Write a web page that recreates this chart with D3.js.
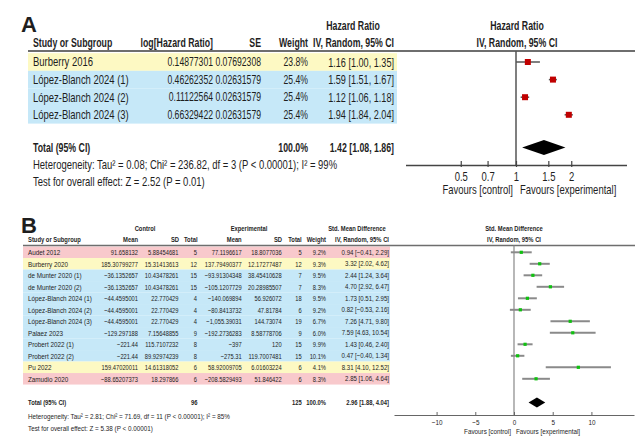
<!DOCTYPE html>
<html><head><meta charset="utf-8">
<script src="https://cdn.jsdelivr.net/npm/d3@7"></script>
<style>
body{margin:0;background:#fff;}
text{font-family:"Liberation Sans",Arial,sans-serif;fill:#1e1e1e;}
</style></head><body>
<script>
// ---------- Panel A data ----------
const studiesA = ["Burberry 2016","López-Blanch 2024 (1)","López-Blanch 2024 (2)","López-Blanch 2024 (3)"];
const logHR = ["0.14877301","0.46262352","0.11122564","0.66329422"];
const seA = ["0.07692308","0.02631579","0.02631579","0.02631579"];
const weightA = ["23.8%","25.4%","25.4%","25.4%"];
const hrA = [1.16,1.59,1.12,1.94];
const hrLowA = [1.00,1.51,1.06,1.84];
const hrHighA = [1.35,1.67,1.18,2.04];
const groupA = ["y","b","b","b"];
const totalA = {hr:1.42, low:1.08, high:1.86, weight:"100.0%"};
const hetA = "Heterogeneity: Tau² = 0.08; Chi² = 236.82, df = 3 (P < 0.00001); I² = 99%";
const testA = "Test for overall effect: Z = 2.52 (P = 0.01)";
const ticksA = [0.5,0.7,1,1.5,2];

// ---------- Panel B data ----------
const studiesB = ["Audet 2012","Burberry 2020","de Munter 2020 (1)","de Munter 2020 (2)","López-Blanch 2024 (1)","López-Blanch 2024 (2)","López-Blanch 2024 (3)","Palaez 2023","Probert 2022 (1)","Probert 2022 (2)","Pu 2022","Zamudio 2020"];
const ctrlMean = ["91.658132","185.30799277","−36.1352657","−36.1352657","−44.4595001","−44.4595001","−44.4595001","−129.297188","−221.44","−221.44","159.47020011","−88.65207373"];
const ctrlSD = ["5.88454681","15.31413613","10.43478261","10.43478261","22.770429","22.770429","22.770429","7.15648855","115.7107232","89.92974239","14.61318052","18.297866"];
const ctrlN = [5,12,15,15,4,4,4,9,8,8,6,6];
const expMean = ["77.1196617","137.79490377","−93.91304348","−105.1207729","−140.069894","−80.8413732","−1,055.39031","−192.2736283","−397","−275.31","58.92009705","−208.5829493"];
const expSD = ["18.8077036","12.17277487","38.45410628","20.28985507","56.926072","47.81784","144.73074","8.58778706","120","119.7007481","6.01603224","51.846422"];
const expN = [5,12,7,7,18,6,19,9,15,15,6,6];
const weightB = ["9.2%","9.3%","9.5%","8.3%","9.5%","9.2%","6.7%","6.0%","9.9%","10.1%","4.1%","8.3%"];
const smd = [0.94,3.32,2.44,4.70,1.73,0.82,7.26,7.59,1.43,0.47,8.31,2.85];
const smdLow = [-0.41,2.02,1.24,2.92,0.51,-0.53,4.71,4.63,0.46,-0.40,4.10,1.06];
const smdHigh = [2.29,4.62,3.64,6.47,2.95,2.16,9.80,10.54,2.40,1.34,12.52,4.64];
const groupB = ["p","y","b","b","b","b","b","b","b","b","y","p"];
const totalB = {ctrlN:96, expN:125, weight:"100.0%", smd:2.96, low:1.88, high:4.04};
const hetB = "Heterogeneity: Tau² = 2.81; Chi² = 71.69, df = 11 (P < 0.00001); I² = 85%";
const testB = "Test for overall effect: Z = 5.38 (P < 0.00001)";
const ticksB = [-10,-5,0,5,10];

// ---------- styles ----------
const bg = {y:"#fdf9c3", b:"#c6e8f8", p:"#f8c9cc"};
const SX = 0.79, SXB = 0.73, SXN = 0.72; // condensed look (regular / bold / numbers)
const fmt = v => (v<0?"−":"") + Math.abs(v).toFixed(2);
const ci = (m,l,h) => `${fmt(m)} [${fmt(l)}, ${fmt(h)}]`;

const svg = d3.select("body").append("svg").attr("width",635).attr("height",436);

function txt(g, x, y, s, opts={}){
  const sx = opts.sx || (opts.bold ? SXB : SX);
  return g.append("text").attr("transform",`translate(${x},${y}) scale(${sx},1)`)
    .attr("dominant-baseline","central")
    .attr("text-anchor",opts.anchor||"start").attr("font-size",opts.size||12)
    .attr("font-weight",opts.bold?"bold":"normal").text(s);
}

// ================= PANEL A =================
const gA = svg.append("g");
gA.append("text").attr("x",21).attr("y",32).attr("font-size",22).attr("font-weight","bold")
  .attr("fill","#000").text("A");

const rowA = i => 62 + i*17.6;
const bandHA = 17.6;
gA.selectAll("rect.bg").data(studiesA).join("rect")
  .attr("x",28).attr("width",369).attr("y",(d,i)=>rowA(i)-bandHA/2).attr("height",bandHA)
  .attr("fill",(d,i)=>bg[groupA[i]]);

// headers
txt(gA,353,25,"Hazard Ratio",{anchor:"middle",bold:true});
txt(gA,517,25,"Hazard Ratio",{anchor:"middle",bold:true});
const hA = 42.7;
txt(gA,33,hA,"Study or Subgroup",{bold:true});
txt(gA,213,hA,"log[Hazard Ratio]",{anchor:"end",bold:true});
txt(gA,261,hA,"SE",{anchor:"end",bold:true});
txt(gA,308,hA,"Weight",{anchor:"end",bold:true});
txt(gA,394,hA,"IV, Random, 95% CI",{anchor:"end",bold:true});
txt(gA,517,hA,"IV, Random, 95% CI",{anchor:"middle",bold:true});
gA.append("line").attr("x1",28).attr("x2",635).attr("y1",51).attr("y2",51)
  .attr("stroke","#6e6e6e").attr("stroke-width",2);

studiesA.forEach((s,i)=>{
  const y=rowA(i);
  txt(gA,33,y,s);
  txt(gA,213,y,logHR[i],{anchor:"end",sx:SXN});
  txt(gA,261,y,seA[i],{anchor:"end",sx:SXN});
  txt(gA,308,y,weightA[i],{anchor:"end",sx:SXN});
  txt(gA,394,y,ci(hrA[i],hrLowA[i],hrHighA[i]),{anchor:"end",sx:0.76});
});
const yTotA = 147.5;
txt(gA,33,yTotA,"Total (95% CI)",{bold:true});
txt(gA,308,yTotA,totalA.weight,{anchor:"end",bold:true});
txt(gA,394,yTotA,ci(totalA.hr,totalA.low,totalA.high),{anchor:"end",bold:true});
txt(gA,33,165,hetA);
txt(gA,33,182,testA);

// plot A
const xA = d3.scaleLog().domain([0.25,4]).range([405.5,626.5]);
const axYA = 165;
gA.append("line").attr("x1",xA(1)).attr("x2",xA(1)).attr("y1",51).attr("y2",axYA)
  .attr("stroke","#555").attr("stroke-width",1.5);
const axA = gA.append("g").attr("transform",`translate(0,${axYA})`)
  .call(d3.axisBottom(xA).tickValues(ticksA).tickFormat(d=>d).tickSizeOuter(0).tickSizeInner(-4).tickPadding(7));
axA.select(".domain").attr("stroke","#444").attr("stroke-width",1.5);
axA.selectAll(".tick line").attr("y1",2).attr("y2",-4).attr("stroke","#444").attr("stroke-width",1.2);
axA.selectAll(".tick text").attr("font-size",12).attr("fill","#1e1e1e")
  .style("font-family","'Liberation Sans',Arial,sans-serif").attr("transform",`scale(${SX},1)`);
txt(gA,xA(1)-3,190,"Favours [control]",{anchor:"end"});
txt(gA,xA(1)+4,190,"Favours [experimental]");

studiesA.forEach((s,i)=>{
  const y=rowA(i);
  gA.append("line").attr("x1",xA(hrLowA[i])).attr("x2",xA(hrHighA[i])).attr("y1",y).attr("y2",y)
    .attr("stroke","#555").attr("stroke-width",1.5);
  gA.append("rect").attr("x",xA(hrA[i])-3).attr("y",y-3).attr("width",6).attr("height",6).attr("fill","#c00000");
});
gA.append("path").attr("fill","#000").attr("d",
  `M${xA(totalA.low)},${yTotA} L${xA(totalA.hr)},${yTotA-7.5} L${xA(totalA.high)},${yTotA} L${xA(totalA.hr)},${yTotA+7.5} Z`);

// ================= PANEL B =================
const gB = svg.append("g");
gB.append("text").attr("x",21).attr("y",233).attr("font-size",22).attr("font-weight","bold")
  .attr("fill","#000").text("B");

const rowB = i => 252.3 + i*11.5;
gB.selectAll("rect.bg").data(studiesB).join("rect")
  .attr("x",23).attr("width",367).attr("y",(d,i)=>rowB(i)-5.75).attr("height",11.5)
  .attr("fill",(d,i)=>bg[groupB[i]]);

const fs=8;
txt(gB,145,228,"Control",{anchor:"middle",size:fs,bold:true});
txt(gB,249,228,"Experimental",{anchor:"middle",size:fs,bold:true});
txt(gB,357,228,"Std. Mean Difference",{anchor:"middle",size:fs,bold:true});
txt(gB,514,228,"Std. Mean Difference",{anchor:"middle",size:fs,bold:true});
const hB=239;
txt(gB,28,hB,"Study or Subgroup",{size:fs,bold:true});
txt(gB,138,hB,"Mean",{anchor:"end",size:fs,bold:true});
txt(gB,179,hB,"SD",{anchor:"end",size:fs,bold:true});
txt(gB,197.5,hB,"Total",{anchor:"end",size:fs,bold:true});
txt(gB,241.7,hB,"Mean",{anchor:"end",size:fs,bold:true});
txt(gB,282,hB,"SD",{anchor:"end",size:fs,bold:true});
txt(gB,301.7,hB,"Total",{anchor:"end",size:fs,bold:true});
txt(gB,326,hB,"Weight",{anchor:"end",size:fs,bold:true});
txt(gB,389,hB,"IV, Random, 95% CI",{anchor:"end",size:fs,bold:true});
txt(gB,514,hB,"IV, Random, 95% CI",{anchor:"middle",size:fs,bold:true});
gB.append("line").attr("x1",23).attr("x2",635).attr("y1",245.5).attr("y2",245.5)
  .attr("stroke","#6e6e6e").attr("stroke-width",1.6);

studiesB.forEach((s,i)=>{
  const y=rowB(i);
  const n = {size:fs, anchor:"end", sx:SXN};
  txt(gB,28,y,s,{size:fs});
  txt(gB,138,y,ctrlMean[i],n);
  txt(gB,178.5,y,ctrlSD[i],n);
  txt(gB,197,y,ctrlN[i],n);
  txt(gB,241.7,y,expMean[i],n);
  txt(gB,281.7,y,expSD[i],n);
  txt(gB,301.7,y,expN[i],n);
  txt(gB,326,y,weightB[i],n);
  txt(gB,389,y,ci(smd[i],smdLow[i],smdHigh[i]),{size:fs,anchor:"end",sx:0.76});
});
const yTotB=402.5;
txt(gB,28,yTotB,"Total (95% CI)",{size:fs,bold:true});
txt(gB,197.5,yTotB,totalB.ctrlN,{anchor:"end",size:fs,bold:true});
txt(gB,301.7,yTotB,totalB.expN,{anchor:"end",size:fs,bold:true});
txt(gB,326,yTotB,totalB.weight,{anchor:"end",size:fs,bold:true});
txt(gB,389,yTotB,ci(totalB.smd,totalB.low,totalB.high),{anchor:"end",size:fs,bold:true});
txt(gB,28,416.7,hetB,{size:fs});
txt(gB,28,428.3,testB,{size:fs});

// plot B
const xB = d3.scaleLinear().domain([-15.5,15.5]).range([394,634]);
const axYB=415;
gB.append("line").attr("x1",xB(0)).attr("x2",xB(0)).attr("y1",245.5).attr("y2",axYB)
  .attr("stroke","#888").attr("stroke-width",1.2);
const axB = gB.append("g").attr("transform",`translate(0,${axYB})`)
  .call(d3.axisBottom(xB).tickValues(ticksB).tickFormat(d=>d<0?"−"+Math.abs(d):d).tickSizeOuter(0).tickSizeInner(-3).tickPadding(4));
axB.select(".domain").attr("stroke","#666").attr("stroke-width",1.2);
axB.selectAll(".tick line").attr("y1",1).attr("y2",-3).attr("stroke","#666");
axB.selectAll(".tick text").attr("font-size",fs).attr("fill","#1e1e1e")
  .style("font-family","'Liberation Sans',Arial,sans-serif").attr("transform",`scale(${SX},1)`);
txt(gB,xB(0)-3,431.7,"Favours [control]",{anchor:"end",size:fs});
txt(gB,xB(0)+2,431.7,"Favours [experimental]",{size:fs});

studiesB.forEach((s,i)=>{
  const y=rowB(i);
  gB.append("line").attr("x1",xB(smdLow[i])).attr("x2",xB(smdHigh[i])).attr("y1",y).attr("y2",y)
    .attr("stroke","#8a8a8a").attr("stroke-width",2);
  gB.append("rect").attr("x",xB(smd[i])-1.6).attr("y",y-1.6).attr("width",3.2).attr("height",3.2).attr("fill","#10c010");
});
gB.append("path").attr("fill","#000").attr("d",
  `M${xB(totalB.low)},${yTotB} L${xB(totalB.smd)},${yTotB-5} L${xB(totalB.high)},${yTotB} L${xB(totalB.smd)},${yTotB+5} Z`);
</script>
</body></html>
